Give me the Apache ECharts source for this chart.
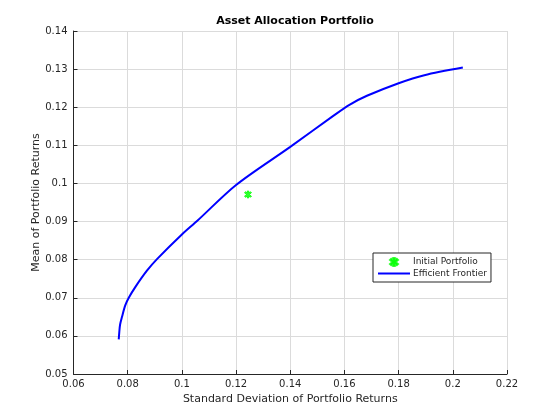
<!DOCTYPE html>
<html>
<head>
<meta charset="UTF-8">
<title>Asset Allocation Portfolio</title>
<script src="https://cdn.jsdelivr.net/npm/echarts@6/dist/echarts.min.js"></script>
<style>
	body { margin: 0; background: #fff; }
	#main { width: 560px; height: 420px; }
</style>
</head>
<body>
<div id="main"></div>
<script>
	// efficient frontier (std dev, mean)
	var frontierX = [0.0767, 0.0769, 0.0772, 0.0779, 0.0791, 0.0804, 0.0828, 0.0871, 0.0909, 0.1000, 0.1057, 0.1200, 0.1400, 0.1560, 0.1620, 0.1683, 0.1800, 0.1895, 0.2037];
	var frontierY = [0.0591, 0.0610, 0.0630, 0.0650, 0.0680, 0.0700, 0.0728, 0.0771, 0.0802, 0.0866, 0.0902, 0.0996, 0.1096, 0.1178, 0.1207, 0.1230, 0.1263, 0.1284, 0.1304];
	var initialX = [0.1244];
	var initialY = [0.0971];

	var txt = "#262626";
	var frontier = [], initial = [];
	for (var i = 0; i < frontierX.length; i++) frontier.push([frontierX[i], frontierY[i]]);
	for (var j = 0; j < initialX.length; j++) initial.push([initialX[j], initialY[j]]);

	function fmt(v) { return String(+v.toFixed(2)); }

	// asterisk-ish marker like matlab's '*'
	var star = "path://M4,0 L6,0 L6,3 L8.5,1 L10,2.5 L7,5 L10,7.5 L8.5,9 L6,7 L6,10 L4,10 L4,7 L1.5,9 L0,7.5 L3,5 L0,2.5 L1.5,1 L4,3 Z";

	var chart = echarts.init(document.getElementById("main"));
	chart.setOption({
		animation: false,
		textStyle: { fontFamily: "DejaVu Sans" },
		title: {
			text: "Asset Allocation Portfolio",
			left: 290, top: 11, textAlign: "center",
			textStyle: { fontSize: 11, fontWeight: "bold", color: "#000" }
		},
		grid: { left: 73.5, right: 53, top: 31, bottom: 46 },
		xAxis: {
			type: "value", min: 0.06, max: 0.22, interval: 0.02,
			name: "Standard Deviation of Portfolio Returns",
			nameLocation: "middle", nameGap: 20,
			nameTextStyle: { fontSize: 11, color: txt },
			axisLine: { lineStyle: { color: txt } },
			axisTick: { inside: true, length: 4, lineStyle: { color: txt } },
			axisLabel: { fontSize: 10, color: txt, margin: 5, formatter: fmt },
			splitLine: { show: true, lineStyle: { color: "#dbdbdb" } }
		},
		yAxis: {
			type: "value", min: 0.05, max: 0.14, interval: 0.01,
			name: "Mean of Portfolio Returns",
			nameLocation: "middle", nameGap: 32,
			nameMoveOverlap: false,
			nameTextStyle: { fontSize: 11, color: txt },
			axisLine: { show: true, lineStyle: { color: txt } },
			axisTick: { show: true, inside: true, length: 4, lineStyle: { color: txt } },
			axisLabel: { fontSize: 10, color: txt, margin: 6, formatter: fmt },
			splitLine: { show: true, lineStyle: { color: "#dbdbdb" } }
		},
		legend: {
			orient: "vertical",
			left: 373, top: 253,
			padding: [4, 4, 4, 4],
			itemGap: 2,
			itemWidth: 32, itemHeight: 8,
			borderColor: txt, borderWidth: 1,
			backgroundColor: "#fff",
			textStyle: { fontSize: 9, color: txt, padding: [0, 0, 0, -2] },
			data: [
				{ name: "Initial Portfolio", icon: star },
				{ name: "Efficient Frontier", itemStyle: { color: "rgba(0,0,0,0)", borderWidth: 0, opacity: 0 } }
			]
		},
		series: [
			{
				name: "Initial Portfolio",
				type: "scatter",
				data: initial,
				symbol: star,
				symbolSize: 7,
				itemStyle: { color: "#00ff00", borderColor: "#00ff00", borderWidth: 1 }
			},
			{
				name: "Efficient Frontier",
				type: "line",
				data: frontier,
				symbol: "none",
				smooth: 0.3,
				lineStyle: { color: "#0000ff", width: 2 },
				itemStyle: { color: "#0000ff" }
			}
		]
	});
</script>
</body>
</html>
